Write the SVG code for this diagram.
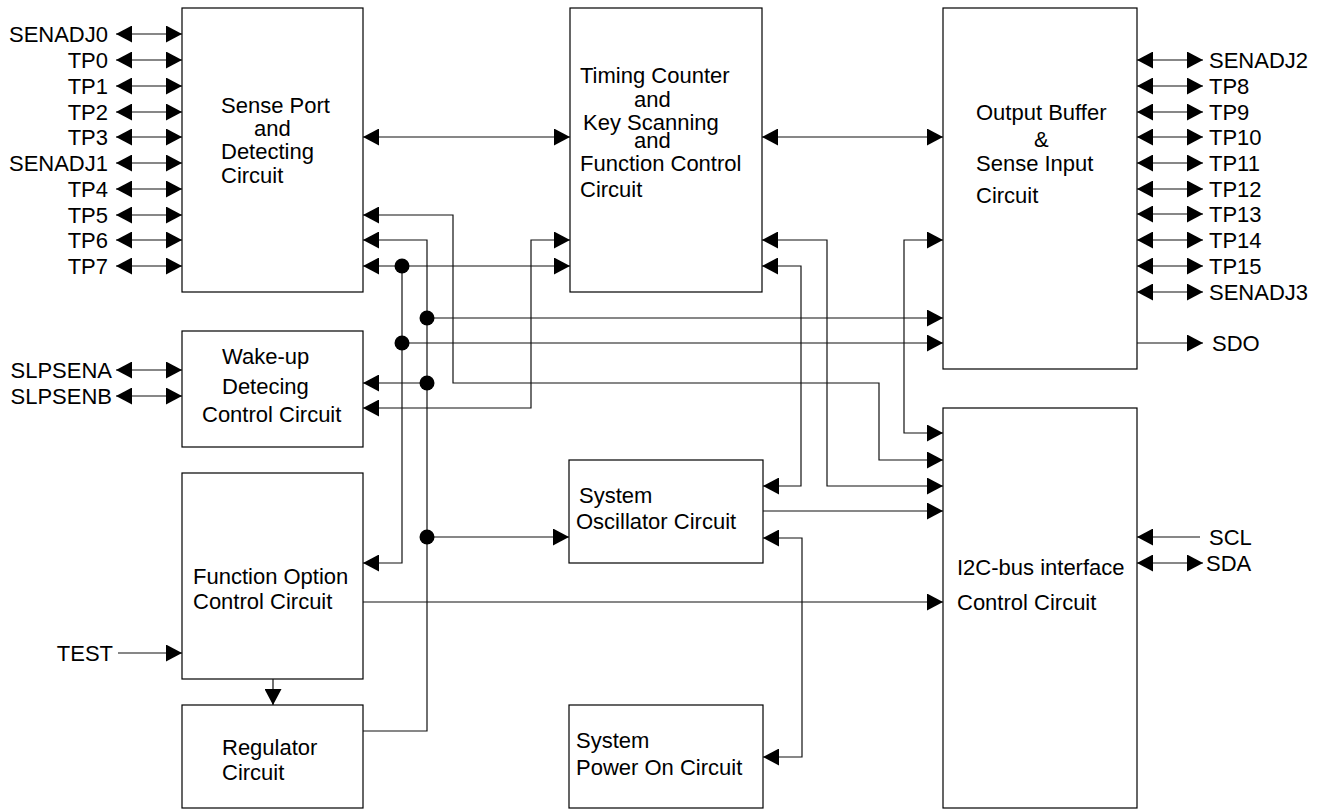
<svg xmlns="http://www.w3.org/2000/svg" width="1326" height="810" viewBox="0 0 1326 810">
<style>
text{font-family:"Liberation Sans",Arial,sans-serif;font-size:22px;fill:#000}
.box{fill:#fff;stroke:#000;stroke-width:1.2}
.w{fill:none;stroke:#111;stroke-width:1.2}
.a2{marker-start:url(#ah);marker-end:url(#ah)}
.a1{marker-end:url(#ah)}
.end{text-anchor:end}
</style>
<defs>
<marker id="ah" viewBox="0 0 16 17" refX="16" refY="8.5" markerWidth="16" markerHeight="17" markerUnits="userSpaceOnUse" orient="auto-start-reverse">
<path d="M0,0 L16,8.5 L0,17 z" fill="#000"/>
</marker>
</defs>
<rect width="1326" height="810" fill="#fff"/>

<g id="sense-port">
<rect class="box" x="182" y="8" width="181" height="284"/>
<text x="221" y="113">Sense Port</text>
<text x="254" y="136">and</text>
<text x="221" y="159">Detecting</text>
<text x="221" y="183">Circuit</text>
</g>
<g id="timing">
<rect class="box" x="570" y="8" width="192" height="284"/>
<text x="580" y="83">Timing Counter</text>
<text x="634" y="107">and</text>
<text x="583" y="130">Key Scanning</text>
<text x="634" y="148">and</text>
<text x="580" y="171">Function Control</text>
<text x="580" y="197">Circuit</text>
</g>
<g id="output-buffer">
<rect class="box" x="943" y="8" width="194" height="361"/>
<text x="976" y="120">Output Buffer</text>
<text x="1034" y="147">&amp;</text>
<text x="976" y="171">Sense Input</text>
<text x="976" y="203">Circuit</text>
</g>
<g id="wakeup">
<rect class="box" x="182" y="331" width="181" height="116"/>
<text x="222" y="364">Wake-up</text>
<text x="222" y="394">Detecing</text>
<text x="202" y="422">Control Circuit</text>
</g>
<g id="function-option">
<rect class="box" x="182" y="473" width="181" height="206"/>
<text x="193" y="584">Function Option</text>
<text x="193" y="609">Control Circuit</text>
</g>
<g id="regulator">
<rect class="box" x="182" y="705" width="181" height="103"/>
<text x="222" y="755">Regulator</text>
<text x="222" y="780">Circuit</text>
</g>
<g id="oscillator">
<rect class="box" x="569" y="460" width="194" height="103"/>
<text x="579" y="503">System</text>
<text x="576" y="529">Oscillator Circuit</text>
</g>
<g id="power-on">
<rect class="box" x="569" y="705" width="194" height="103"/>
<text x="576" y="748">System</text>
<text x="576" y="775">Power On Circuit</text>
</g>
<g id="i2c">
<rect class="box" x="943" y="408" width="194" height="400"/>
<text x="957" y="575">I2C-bus interface</text>
<text x="957" y="610">Control Circuit</text>
</g>

<g id="pin-labels">
<text class="end" x="108" y="42">SENADJ0</text>
<text class="end" x="108" y="68">TP0</text>
<text class="end" x="108" y="94">TP1</text>
<text class="end" x="108" y="120">TP2</text>
<text class="end" x="108" y="145">TP3</text>
<text class="end" x="108" y="171">SENADJ1</text>
<text class="end" x="108" y="197">TP4</text>
<text class="end" x="108" y="223">TP5</text>
<text class="end" x="108" y="248">TP6</text>
<text class="end" x="108" y="274">TP7</text>
<text class="end" x="112" y="378">SLPSENA</text>
<text class="end" x="112" y="404">SLPSENB</text>
<text class="end" x="113" y="661">TEST</text>
<text x="1209" y="68">SENADJ2</text>
<text x="1209" y="94">TP8</text>
<text x="1209" y="120">TP9</text>
<text x="1209" y="145">TP10</text>
<text x="1209" y="171">TP11</text>
<text x="1209" y="197">TP12</text>
<text x="1209" y="222">TP13</text>
<text x="1209" y="248">TP14</text>
<text x="1209" y="274">TP15</text>
<text x="1209" y="300">SENADJ3</text>
<text x="1212" y="351">SDO</text>
<text x="1209" y="545">SCL</text>
<text x="1206" y="571">SDA</text>
</g>

<g id="connectors">
<line class="w a2" x1="116" y1="34" x2="182" y2="34"/>
<line class="w a2" x1="116" y1="60" x2="182" y2="60"/>
<line class="w a2" x1="116" y1="86" x2="182" y2="86"/>
<line class="w a2" x1="116" y1="112" x2="182" y2="112"/>
<line class="w a2" x1="116" y1="137" x2="182" y2="137"/>
<line class="w a2" x1="116" y1="163" x2="182" y2="163"/>
<line class="w a2" x1="116" y1="189" x2="182" y2="189"/>
<line class="w a2" x1="116" y1="215" x2="182" y2="215"/>
<line class="w a2" x1="116" y1="240" x2="182" y2="240"/>
<line class="w a2" x1="116" y1="266" x2="182" y2="266"/>
<line class="w a2" x1="116" y1="370" x2="182" y2="370"/>
<line class="w a2" x1="116" y1="396" x2="182" y2="396"/>
<line class="w a1" x1="118" y1="653" x2="182" y2="653"/>
<line class="w a1" x1="273" y1="679" x2="273" y2="705"/>

<line class="w a2" x1="1137" y1="60" x2="1203" y2="60"/>
<line class="w a2" x1="1137" y1="86" x2="1203" y2="86"/>
<line class="w a2" x1="1137" y1="112" x2="1203" y2="112"/>
<line class="w a2" x1="1137" y1="137" x2="1203" y2="137"/>
<line class="w a2" x1="1137" y1="163" x2="1203" y2="163"/>
<line class="w a2" x1="1137" y1="189" x2="1203" y2="189"/>
<line class="w a2" x1="1137" y1="214" x2="1203" y2="214"/>
<line class="w a2" x1="1137" y1="240" x2="1203" y2="240"/>
<line class="w a2" x1="1137" y1="266" x2="1203" y2="266"/>
<line class="w a2" x1="1137" y1="292" x2="1203" y2="292"/>
<line class="w a1" x1="1137" y1="343" x2="1203" y2="343"/>
<line class="w a1" x1="1200" y1="537" x2="1137" y2="537"/>
<line class="w a2" x1="1137" y1="563" x2="1203" y2="563"/>

<line class="w a2" x1="363" y1="137" x2="570" y2="137"/>
<line class="w a2" x1="762" y1="137" x2="943" y2="137"/>
<path class="w a2" d="M363,215H453V383H879V460H943"/>
<path class="w a1" d="M363,731H427V240H363"/>
<line class="w a1" x1="427" y1="318" x2="943" y2="318"/>
<line class="w a1" x1="427" y1="383" x2="363" y2="383"/>
<line class="w a1" x1="427" y1="537" x2="569" y2="537"/>
<line class="w a2" x1="363" y1="266" x2="570" y2="266"/>
<path class="w a1" d="M402,266V563H363"/>
<line class="w a1" x1="402" y1="343" x2="943" y2="343"/>
<path class="w a2" d="M363,408H531V240H570"/>
<path class="w a2" d="M762,240H827V486H943"/>
<path class="w a2" d="M762,266H801V486H763"/>
<path class="w a2" d="M943,240H904V433H943"/>
<line class="w a1" x1="763" y1="511" x2="943" y2="511"/>
<path class="w a2" d="M763,538H802V757H763"/>
<line class="w a1" x1="363" y1="602" x2="943" y2="602"/>
<g fill="#000">
<circle cx="402" cy="266" r="7.5"/>
<circle cx="402" cy="343" r="7.5"/>
<circle cx="427" cy="318" r="7.5"/>
<circle cx="427" cy="383" r="7.5"/>
<circle cx="427" cy="537" r="7.5"/>
</g>
</g>
</svg>
